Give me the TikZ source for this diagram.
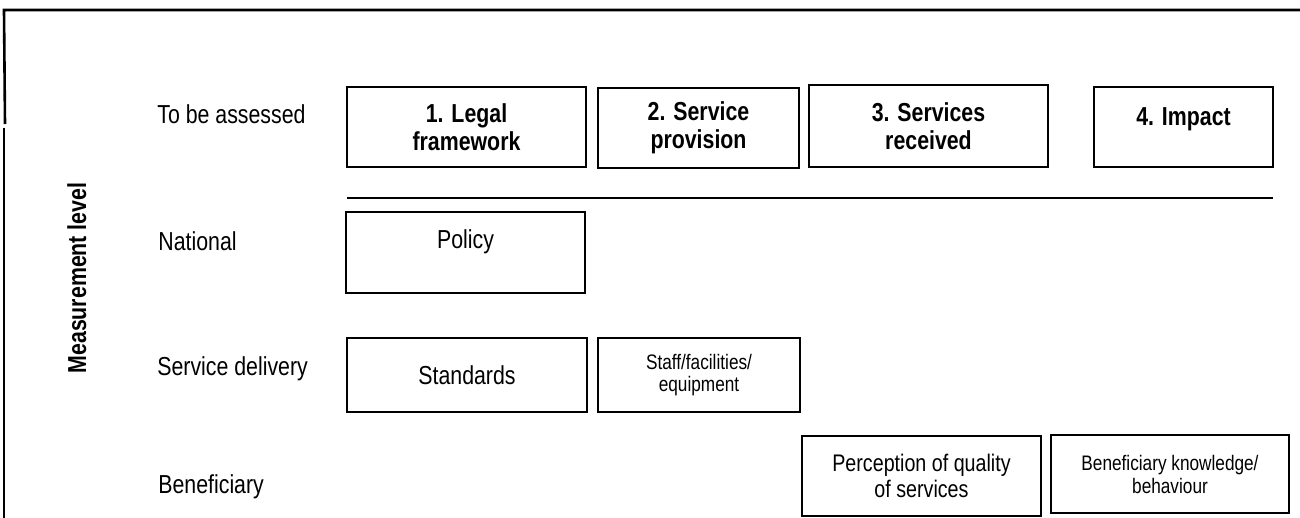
\documentclass[tikz,border=0pt]{standalone}
\usepackage{fontspec}
\setmainfont{Liberation Sans}[FakeStretch=0.82]

\begin{document}
\begin{tikzpicture}[x=0.5pt, y=-0.5pt,
    stage/.style={draw, line width=0.8pt, align=center, inner sep=0pt,
        font=\fontsize{13}{14}\selectfont\bfseries},
    cell/.style={draw, line width=0.7pt, align=center, inner sep=0pt,
        font=\fontsize{13}{14}\selectfont},
    lowcell/.style={draw, line width=0.6pt, align=center, inner sep=0pt,
        font=\fontsize{12}{13}\selectfont},
    upper/.style={text height=9.3pt, text depth=#1},
    level/.style={anchor=base west, inner sep=0pt, font=\fontsize{13}{14}\selectfont}]
    \useasboundingbox (0,0) rectangle (1300,518);

    % Draw frame
    \coordinate (frametop) at (4,10);
    \coordinate (frameright) at (1300,10);
    \coordinate (framegap) at (5,124);
    \coordinate (framelow) at (4,128);
    \coordinate (framebottom) at (4,518);
    \draw[line width=1.3pt] (frameright) -- (frametop) -- (framegap);
    \draw[line width=1.3pt] (framelow) -- (framebottom);

    % Row labels
    \node[anchor=base, rotate=90, font=\fontsize{13}{14}\selectfont\bfseries]
        (measure) at (86,278) {Measurement level};
    \node[level] (assessed) at (157,124) {To be assessed};
    \node[level] (national) at (158,250) {National};
    \node[level] (delivery) at (157,375) {Service delivery};
    \node[level] (beneficiary) at (158,493) {Beneficiary};

    % What is assessed
    \node[stage, minimum width=119.5pt, minimum height=40pt]
        (legal) at (466.5,127) {1. Legal\\framework};
    \node[stage, minimum width=100.5pt, minimum height=40pt]
        (provision) at (698.5,128) {2. Service\\provision};
    \node[stage, minimum width=119.5pt, minimum height=41pt]
        (received) at (928.5,126) {3. Services\\received};
    \node[stage, upper=10.7pt, minimum width=89.5pt, minimum height=40pt]
        (impact) at (1183.5,127) {4. Impact};

    \coordinate (sepstart) at (347,198);
    \coordinate (sepend) at (1273,198);
    \draw[line width=1pt] (sepstart) -- (sepend);

    % National and service delivery
    \node[cell, upper=12.8pt, minimum width=119.5pt, minimum height=40.5pt]
        (policy) at (465.5,252.5) {Policy};
    \node[cell, minimum width=120pt, minimum height=37pt]
        (standards) at (467,375) {Standards};
    \node[cell, font=\fontsize{10.5}{11}\selectfont, minimum width=101pt, minimum height=37pt]
        (staff) at (699,375) {Staff/facilities/\\equipment};

    % Beneficiary
    \node[lowcell, minimum width=119.5pt, minimum height=40pt]
        (perception) at (921.5,476) {Perception of quality\\of services};
    \node[lowcell, font=\fontsize{10.5}{11.5}\selectfont, minimum width=119pt, minimum height=39pt]
        (knowledge) at (1170,474) {Beneficiary knowledge/\\behaviour};

\end{tikzpicture}
\end{document}
